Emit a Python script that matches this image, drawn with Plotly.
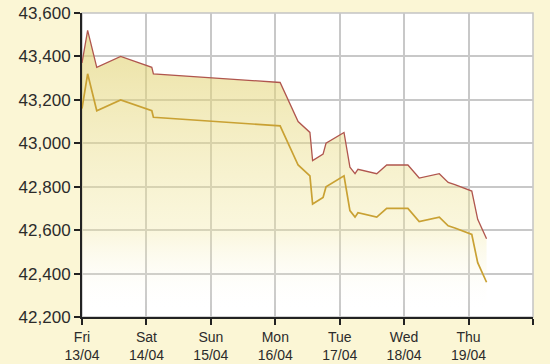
import plotly.graph_objects as go

# ---- data ----
times = [
    "2012-04-13 00:00", "2012-04-13 02:06", "2012-04-13 05:30", "2012-04-13 14:24",
    "2012-04-14 02:00", "2012-04-14 02:36", "2012-04-16 01:48", "2012-04-16 04:24",
    "2012-04-16 05:42", "2012-04-16 08:30", "2012-04-16 12:54", "2012-04-16 13:54",
    "2012-04-16 17:48", "2012-04-16 18:54", "2012-04-17 01:36", "2012-04-17 02:36",
    "2012-04-17 03:48", "2012-04-17 05:42", "2012-04-17 06:48", "2012-04-17 13:48",
    "2012-04-17 17:30", "2012-04-18 01:24", "2012-04-18 05:36", "2012-04-18 13:06",
    "2012-04-18 16:24", "2012-04-18 18:54", "2012-04-19 01:12", "2012-04-19 03:24",
    "2012-04-19 06:42",
]
sell = [
    43370, 43520, 43350, 43400, 43350, 43320, 43280, 43210, 43170, 43100,
    43050, 42920, 42950, 43000, 43050, 42970, 42890, 42860, 42880, 42860,
    42900, 42900, 42840, 42860, 42820, 42810, 42780, 42650, 42560,
]
buy = [
    43160, 43320, 43150, 43200, 43150, 43120, 43080, 43010, 42970, 42900,
    42850, 42720, 42750, 42800, 42850, 42770, 42690, 42660, 42680, 42660,
    42700, 42700, 42640, 42660, 42620, 42610, 42580, 42450, 42360,
]
tick_dates = ["2012-04-13", "2012-04-14", "2012-04-15", "2012-04-16",
              "2012-04-17", "2012-04-18", "2012-04-19", "2012-04-20"]
tick_labels = ["Fri<br>13/04", "Sat<br>14/04", "Sun<br>15/04", "Mon<br>16/04",
               "Tue<br>17/04", "Wed<br>18/04", "Thu<br>19/04", ""]
y_ticks = [42200, 42400, 42600, 42800, 43000, 43200, 43400, 43600]
y_min, y_max = 42200, 43600

fig = go.Figure()

# invisible baseline for the area fill
fig.add_trace(go.Scatter(
    x=times, y=[y_min] * len(times), mode="lines",
    line=dict(width=0, color="rgba(0,0,0,0)"), hoverinfo="skip", showlegend=False,
))
# upper line with semi-transparent gradient area down to the baseline
fig.add_trace(go.Scatter(
    x=times, y=sell, mode="lines", fill="tonexty",
    fillgradient=dict(type="vertical", start=42220, stop=43450,
                      colorscale=[[0, "rgba(255,255,255,0)"],
                                  [0.3, "rgba(242,232,160,0.35)"],
                                  [1, "rgba(224,208,108,0.6)"]]),
    line=dict(color="#b0564e", width=1.3), showlegend=False,
))
# lower line
fig.add_trace(go.Scatter(
    x=times, y=buy, mode="lines",
    line=dict(color="#c9a133", width=1.7), showlegend=False,
))

fig.update_layout(
    width=550, height=364,
    margin=dict(l=82, r=17, t=13, b=47),
    paper_bgcolor="#fbf6d5",
    plot_bgcolor="#ffffff",
    font=dict(family="Liberation Sans, Arial, sans-serif", color="#2b2b2b"),
    shapes=[dict(type="rect", xref="paper", yref="paper", x0=0, y0=0, x1=1, y1=1,
                 line=dict(color="#c4c4c4", width=1.5), layer="below")],
)
fig.update_xaxes(
    type="date", range=[tick_dates[0], tick_dates[-1]], automargin=False,
    tickmode="array", tickvals=tick_dates, ticktext=tick_labels,
    showgrid=True, gridcolor="#c8c8c8", gridwidth=1.5,
    showline=True, linecolor="#222222", linewidth=2,
    ticks="outside", ticklen=6, tickwidth=2, tickcolor="#222222",
    tickfont=dict(size=14, color="#2b2b2b"), zeroline=False,
)
fig.update_yaxes(
    range=[y_min, y_max], tickmode="array", tickvals=y_ticks, automargin=False,
    tickformat=",d",
    showgrid=True, gridcolor="#c8c8c8", gridwidth=1.5,
    showline=True, linecolor="#222222", linewidth=2,
    ticks="outside", ticklen=6, tickwidth=2, tickcolor="#222222",
    tickfont=dict(size=17, color="#2b2b2b"), zeroline=False,
)

fig.write_html("out.html")
